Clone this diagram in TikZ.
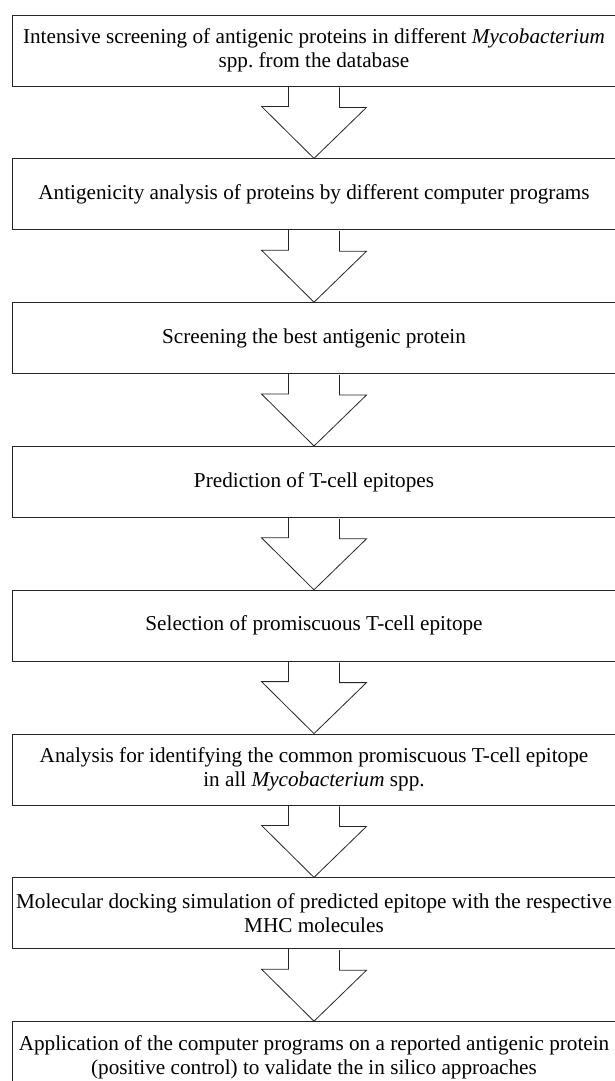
\documentclass[tikz,border=0pt]{standalone}
\usepackage{fontspec}
\setmainfont{Liberation Serif}
\usepackage{tikz}
\usetikzlibrary{positioning,calc}
\frenchspacing

\begin{document}
\begin{tikzpicture}[
    x=1pt, y=1pt,
    node distance=72pt,
    every node/.style={font=\fontsize{21.2}{23.5}\selectfont},
    stage/.style={rectangle, draw=black!85, line width=0.8pt, minimum width=604pt, minimum height=71pt, inner sep=0pt, align=center},
    flow/.style={draw=black!85, line width=0.8pt, line join=miter}
]
    \useasboundingbox (0,0) rectangle (614,-1081);

    \node [stage] (s1) at (314,-50.5) {Intensive screening of antigenic proteins in different \textit{Mycobacterium}\\spp. from the database};
    \node [stage, below=of s1] (s2) {Antigenicity analysis of proteins by different computer programs};
    \node [stage, below=of s2] (s3) {Screening the best antigenic protein};
    \node [stage, below=of s3] (s4) {Prediction of T-cell epitopes};
    \node [stage, below=of s4] (s5) {Selection of promiscuous T-cell epitope};
    \node [stage, below=of s5] (s6) {Analysis for identifying the common promiscuous T-cell epitope\\in all \textit{Mycobacterium} spp.};
    \node [stage, below=of s6] (s7) {Molecular docking simulation of predicted epitope with the respective\\MHC molecules};
    \node [stage, below=of s7] (s8) {Application of the computer programs on a reported antigenic protein\\(positive control) to validate the in silico approaches};

    % hollow block arrows between the stages
    \foreach \a/\b in {s1/s2, s2/s3, s3/s4, s4/s5, s5/s6, s6/s7, s7/s8}
        \draw [flow] ($(\a.south)+(-25.5,0)$) -- ++(0,-20) -- ++(-27,0) -- (\b.north)
            -- ++(52.5,51) -- ++(-27,0) -- ++(0,20);
\end{tikzpicture}
\end{document}
